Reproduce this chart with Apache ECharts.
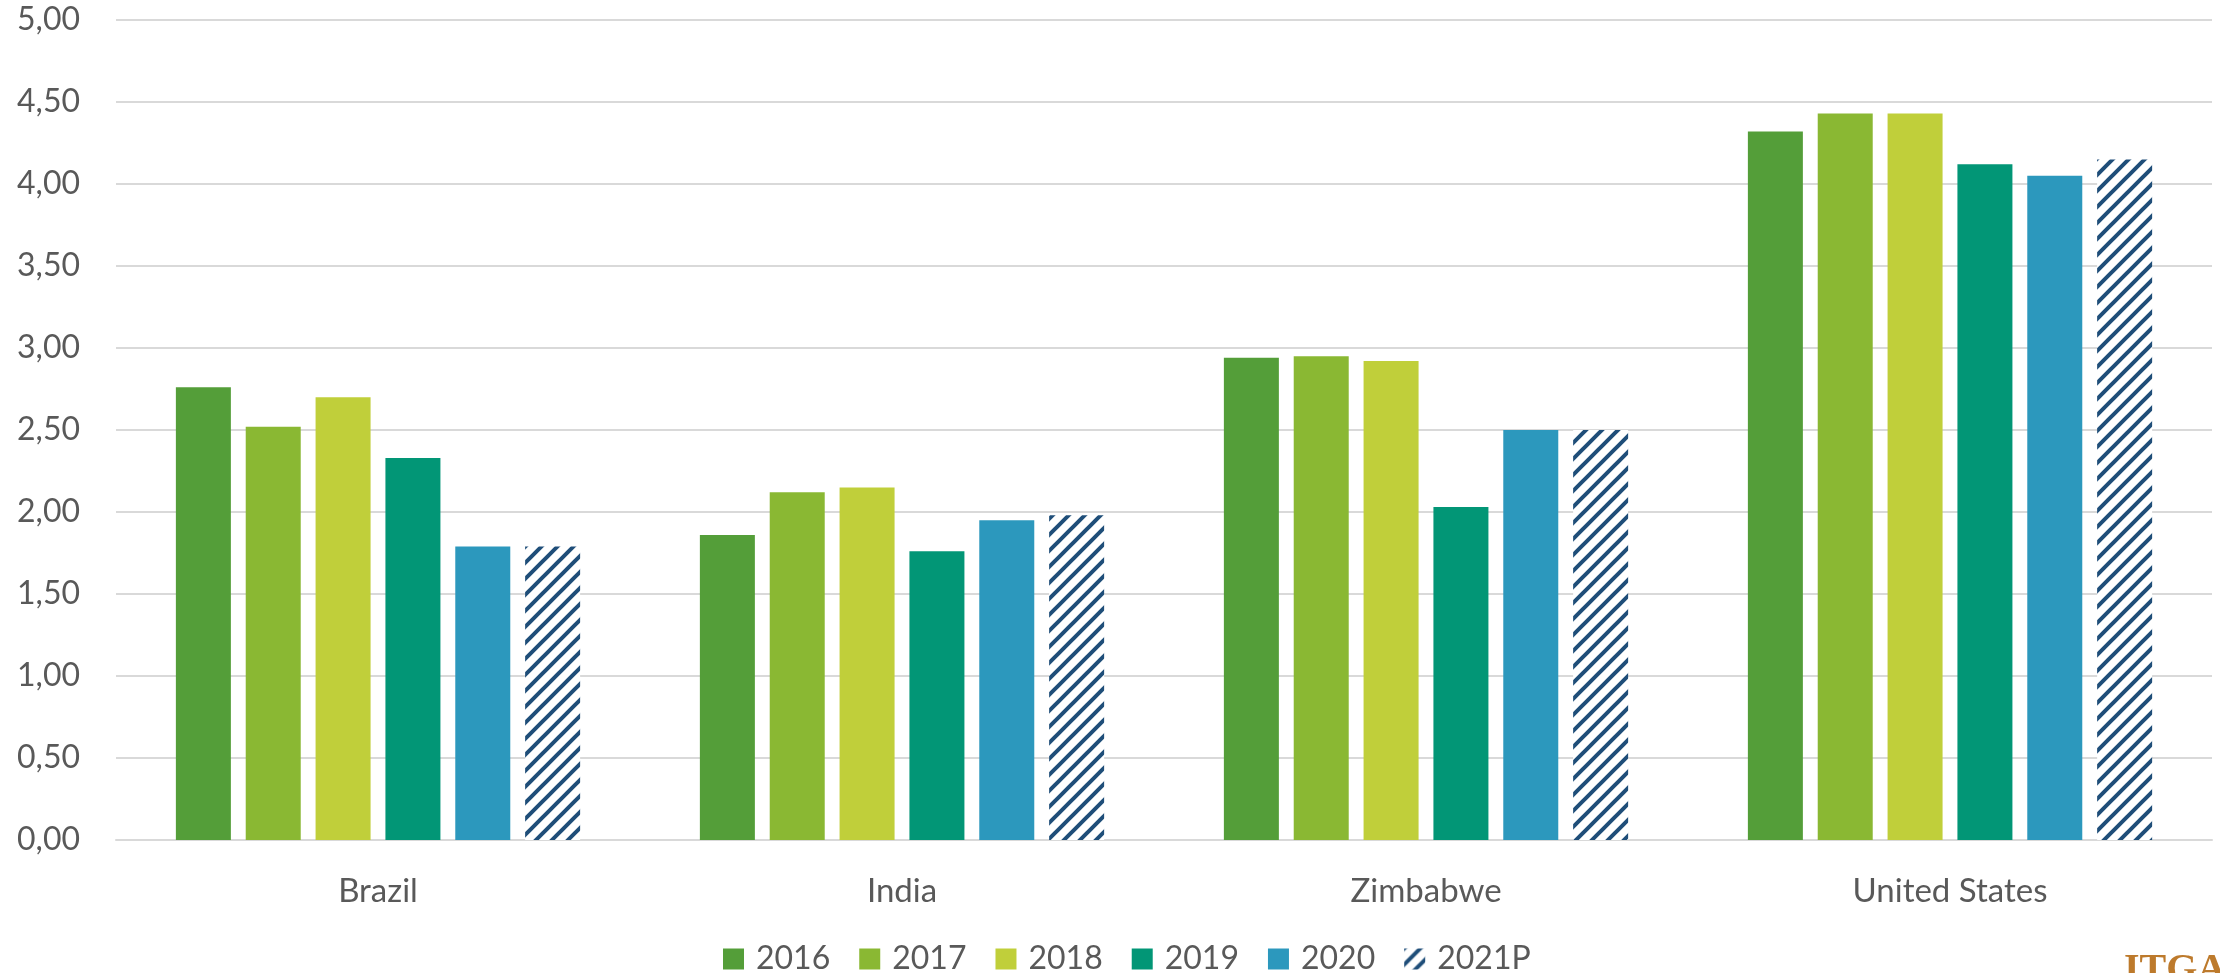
<!DOCTYPE html>
<html>
<head>
<meta charset="utf-8">
<title>Chart</title>
<script src="https://cdn.jsdelivr.net/npm/echarts@6/dist/echarts.min.js"></script>
<style>
  html, body { margin: 0; padding: 0; background: #fff; }
  #chart { width: 2220px; height: 973px; }
</style>
</head>
<body>
<div id="chart"></div>
<script>
// DATA
const countries = ['Brazil', 'India', 'Zimbabwe', 'United States'];
const years = ['2016', '2017', '2018', '2019', '2020', '2021P'];
const values2016 = [2.76, 1.86, 2.94, 4.32];
const values2017 = [2.52, 2.12, 2.95, 4.43];
const values2018 = [2.70, 2.15, 2.92, 4.43];
const values2019 = [2.33, 1.76, 2.03, 4.12];
const values2020 = [1.79, 1.95, 2.50, 4.05];
const values2021P = [1.79, 1.98, 2.50, 4.15];

const seriesValues = [values2016, values2017, values2018, values2019, values2020, values2021P];

// hatch pattern for the projected year
function makeHatch() {
    const c = document.createElement('canvas');
    c.width = 16;
    c.height = 16;
    const ctx = c.getContext('2d');
    ctx.fillStyle = '#ffffff';
    ctx.fillRect(0, 0, 16, 16);
    ctx.strokeStyle = '#1f4e79';
    ctx.lineWidth = 4;
    ctx.beginPath();
    ctx.moveTo(-4, 20); ctx.lineTo(20, -4);
    ctx.moveTo(-4, 4); ctx.lineTo(4, -4);
    ctx.moveTo(12, 20); ctx.lineTo(20, 12);
    ctx.stroke();
    return c;
}

const colors = ['#549e39', '#8ab833', '#c0cf3a', '#029676', '#2c98bd', { image: makeHatch(), repeat: 'repeat' }];

document.addEventListener('DOMContentLoaded', function () {
    const chart = echarts.init(document.getElementById('chart'));
    const font = 'Lato, "Open Sans", sans-serif';

    const option = {
        animation: false,
        backgroundColor: '#ffffff',
        grid: { left: 116, right: 8, top: 20, bottom: 133, containLabel: false },
        legend: {
            data: years,
            left: 718,
            top: 938,
            itemWidth: 21,
            itemHeight: 21,
            itemGap: 29,
            icon: 'rect',
            textStyle: { color: '#595959', fontSize: 32, fontFamily: font, lineHeight: 32, padding: [0, 0, 0, 7] }
        },
        xAxis: {
            type: 'category',
            data: countries,
            axisLine: { lineStyle: { color: '#d9d9d9', width: 2 } },
            axisTick: { show: false },
            axisLabel: { color: '#595959', fontSize: 33, fontFamily: font, margin: 35, lineHeight: 33 }
        },
        yAxis: {
            type: 'value',
            min: 0,
            max: 5,
            interval: 0.5,
            axisLine: { show: false },
            axisTick: { show: false },
            splitLine: { lineStyle: { color: '#d9d9d9', width: 2 } },
            axisLabel: {
                color: '#595959',
                fontSize: 32,
                fontFamily: font,
                margin: 36,
                formatter: function (v) { return v.toFixed(2).replace('.', ','); }
            }
        },
        graphic: [{
            type: 'text',
            left: 2124,
            top: 951,
            style: { text: 'ITGA', fill: '#bd7a2c', font: 'bold 40px "Liberation Serif", serif' }
        }],
        series: years.map(function (y, i) {
            return {
                name: y,
                type: 'bar',
                data: seriesValues[i],
                barWidth: 55,
                barGap: '27%',
                itemStyle: { color: colors[i] }
            };
        })
    };
    chart.setOption(option);
});
</script>
</body>
</html>
